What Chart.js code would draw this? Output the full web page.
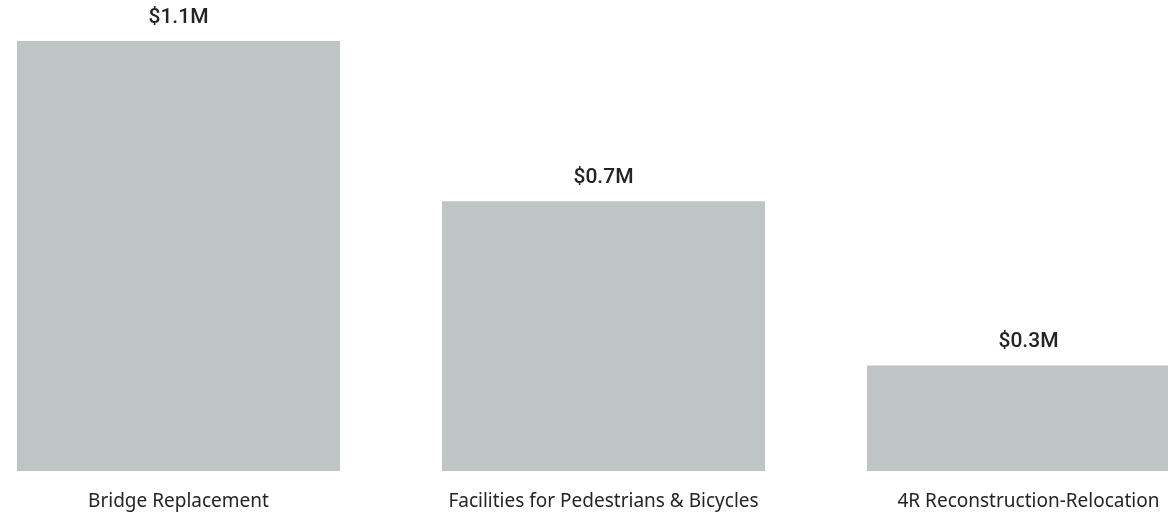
<!DOCTYPE html>
<html lang="en">
<head>
    <meta charset="UTF-8">
    <title>Spend by Work Type</title>
    <script src="https://cdn.jsdelivr.net/npm/chart.js@4.4.1/dist/chart.umd.min.js"></script>
    <style>
        html, body {
            margin: 0;
            padding: 0;
            background: #ffffff;
            overflow: hidden;
        }

        .frame {
            width: 1168px;
            height: 516px;
            overflow: hidden;
            position: relative;
        }

        /* plot is a bit wider than the window, the last bar runs off the right edge */
        .plot {
            position: absolute;
            left: -34px;
            top: 0;
            width: 1275px;
            height: 516px;
        }
    </style>
</head>
<body>
    <div class="frame">
        <div class="plot">
            <canvas id="workTypeChart"></canvas>
        </div>
    </div>

    <script>
        const categories = ['Bridge Replacement', 'Facilities for Pedestrians & Bicycles', '4R Reconstruction-Relocation'];
        const amounts = [1.1, 0.69, 0.27]; // $ millions

        const valueLabels = {
            id: 'valueLabels',
            afterDatasetsDraw(chart) {
                const ctx = chart.ctx;
                const meta = chart.getDatasetMeta(0);
                ctx.save();
                ctx.font = '500 21px Roboto, "Noto Sans", sans-serif';
                ctx.fillStyle = '#252423';
                ctx.textAlign = 'center';
                ctx.textBaseline = 'bottom';
                meta.data.forEach((bar, i) => {
                    ctx.fillText('$' + amounts[i].toFixed(1) + 'M', bar.x, bar.y - 13);
                });
                ctx.restore();
            }
        };

        new Chart(document.getElementById('workTypeChart'), {
            type: 'bar',
            data: {
                labels: categories,
                datasets: [{
                    data: amounts,
                    backgroundColor: '#bfc4c4',
                    borderWidth: 0,
                    barPercentage: 0.76,
                    categoryPercentage: 1
                }]
            },
            options: {
                responsive: true,
                maintainAspectRatio: false,
                animation: false,
                layout: {
                    padding: { top: 41, bottom: -16, left: 0, right: 0 }
                },
                plugins: {
                    legend: { display: false },
                    tooltip: { enabled: false }
                },
                scales: {
                    x: {
                        grid: { display: false, drawTicks: false },
                        border: { display: false },
                        ticks: {
                            padding: 19,
                            maxRotation: 0,
                            color: '#252423',
                            font: { family: '"Noto Sans", sans-serif', size: 19 }
                        }
                    },
                    y: {
                        display: false,
                        min: 0,
                        max: 1.1
                    }
                }
            },
            plugins: [valueLabels]
        });
    </script>
</body>
</html>
